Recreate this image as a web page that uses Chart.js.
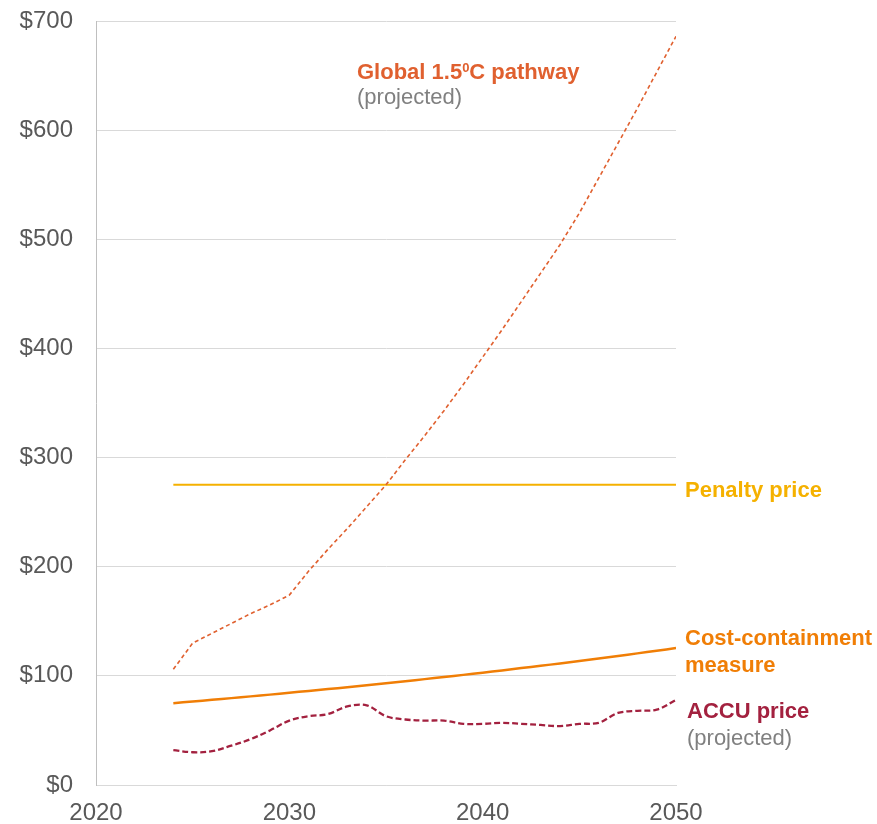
<!DOCTYPE html>
<html>
<head>
<meta charset="utf-8">
<script src="https://cdn.jsdelivr.net/npm/chart.js@4.4.1/dist/chart.umd.min.js"></script>
<style>
  html, body { margin: 0; padding: 0; background: #fff; }
  #wrap { width: 877px; height: 824px; }
</style>
</head>
<body>
<div id="wrap"><canvas id="chart" width="877" height="824"></canvas></div>
<script>
// years and values
const years = [2024, 2025, 2026, 2027, 2028, 2029, 2030, 2031, 2032, 2033, 2034, 2035, 2036, 2037,
  2038, 2039, 2040, 2041, 2042, 2043, 2044, 2045, 2046, 2047, 2048, 2049, 2050];

const globalPathway = [106, 130, 139, 148, 157, 165, 174, 196, 216, 235, 255, 275, 298, 320,
  343, 367, 392, 417, 443, 469, 495, 524, 556, 588, 620, 653, 686];

const penaltyPrice = [275, 275, 275, 275, 275, 275, 275, 275, 275, 275, 275, 275, 275, 275,
  275, 275, 275, 275, 275, 275, 275, 275, 275, 275, 275, 275, 275];

const costContainment = [75, 76.5, 78, 79.6, 81.2, 82.8, 84.5, 86.2, 87.9, 89.6, 91.4, 93.2, 95.1, 97,
  98.9, 100.9, 102.9, 105, 107.1, 109.2, 111.4, 113.6, 115.9, 118.2, 120.6, 123, 125.5];

const accuPrice = [32, 30, 31, 36, 42, 50, 59, 63, 65, 72, 73, 63, 60, 59,
  59, 56, 56, 57, 56, 55, 54, 56, 57, 66, 68, 69, 78];

const xTicks = [2020, 2030, 2040, 2050];
const yTicks = [0, 100, 200, 300, 400, 500, 600, 700];

const COL_GLOBAL = '#E0602F';
const COL_PENALTY = '#F5B100';
const COL_COST = '#F07E06';
const COL_ACCU = '#A3213F';
const COL_GREY = '#808080';
const FONT = '"Liberation Sans", Arial, sans-serif';

function pts(vals) {
  return years.map((y, i) => ({ x: y, y: vals[i] }));
}

// labels beside the lines
const lineLabels = {
  id: 'lineLabels',
  afterDatasetsDraw(chart) {
    const c = chart.ctx;
    const xs = chart.scales.x, ys = chart.scales.y;
    const right = chart.chartArea.right;
    c.save();
    c.textBaseline = 'alphabetic';
    c.textAlign = 'left';

    // Global 1.5°C pathway (superscript 0)
    const gx = xs.getPixelForValue(2033.5);
    const gy = ys.getPixelForValue(647);
    let x = gx;
    c.fillStyle = COL_GLOBAL;
    c.font = 'bold 22px ' + FONT;
    c.fillText('Global 1.5', x, gy);
    x += c.measureText('Global 1.5').width;
    c.font = 'bold 13px ' + FONT;
    c.fillText('0', x, gy - 7);
    x += c.measureText('0').width;
    c.font = 'bold 22px ' + FONT;
    c.fillText('C pathway', x, gy);
    c.fillStyle = COL_GREY;
    c.font = '22px ' + FONT;
    c.fillText('(projected)', gx, gy + 25);

    c.font = 'bold 22px ' + FONT;
    c.fillStyle = COL_PENALTY;
    c.fillText('Penalty price', right + 9, ys.getPixelForValue(264));

    const cy = ys.getPixelForValue(128);
    c.fillStyle = COL_COST;
    c.fillText('Cost-containment', right + 9, cy);
    c.fillText('measure', right + 9, cy + 27);

    const ay = ys.getPixelForValue(61.5);
    c.fillStyle = COL_ACCU;
    c.fillText('ACCU price', right + 11, ay);
    c.fillStyle = COL_GREY;
    c.font = '22px ' + FONT;
    c.fillText('(projected)', right + 11, ay + 27);
    c.restore();
  }
};

new Chart(document.getElementById('chart'), {
  type: 'line',
  data: {
    datasets: [
      {
        label: 'Global 1.5C pathway',
        data: pts(globalPathway),
        borderColor: COL_GLOBAL,
        borderWidth: 1.6,
        borderDash: [4, 3],
        pointRadius: 0,
        tension: 0
      },
      {
        label: 'Penalty price',
        data: pts(penaltyPrice),
        borderColor: COL_PENALTY,
        borderWidth: 2,
        pointRadius: 0
      },
      {
        label: 'Cost-containment measure',
        data: pts(costContainment),
        borderColor: COL_COST,
        borderWidth: 2.5,
        pointRadius: 0,
        tension: 0.3
      },
      {
        label: 'ACCU price',
        data: pts(accuPrice),
        borderColor: COL_ACCU,
        borderWidth: 2.3,
        borderDash: [6, 3],
        pointRadius: 0,
        tension: 0.35
      }
    ]
  },
  options: {
    responsive: false,
    animation: false,
    layout: { padding: { top: 21, right: 201, left: 0, bottom: 0 } },
    plugins: { legend: { display: false }, tooltip: { enabled: false } },
    scales: {
      x: {
        type: 'linear',
        min: 2020,
        max: 2050,
        afterBuildTicks: (axis) => { axis.ticks = xTicks.map(v => ({ value: v })); },
        afterFit: (axis) => { axis.height = 39; axis.paddingLeft = 0; axis.paddingRight = 0; },
        grid: { display: false, drawTicks: false },
        border: { display: true, color: '#d9d9d9', width: 1 },
        ticks: {
          padding: 14,
          color: '#595959',
          font: { family: FONT, size: 24 },
          callback: (v) => String(v),
          maxRotation: 0
        }
      },
      y: {
        min: 0,
        max: 700,
        afterBuildTicks: (axis) => { axis.ticks = yTicks.map(v => ({ value: v })); },
        afterFit: (axis) => { axis.width = 96; axis.paddingTop = 0; axis.paddingBottom = 0; },
        grid: { color: '#d9d9d9', lineWidth: 1, drawTicks: false },
        border: { display: true, color: '#bfbfbf', width: 1 },
        ticks: {
          padding: 23,
          color: '#595959',
          font: { family: FONT, size: 24 },
          callback: (v) => '$' + v
        }
      }
    }
  },
  plugins: [lineLabels]
});
</script>
</body>
</html>
